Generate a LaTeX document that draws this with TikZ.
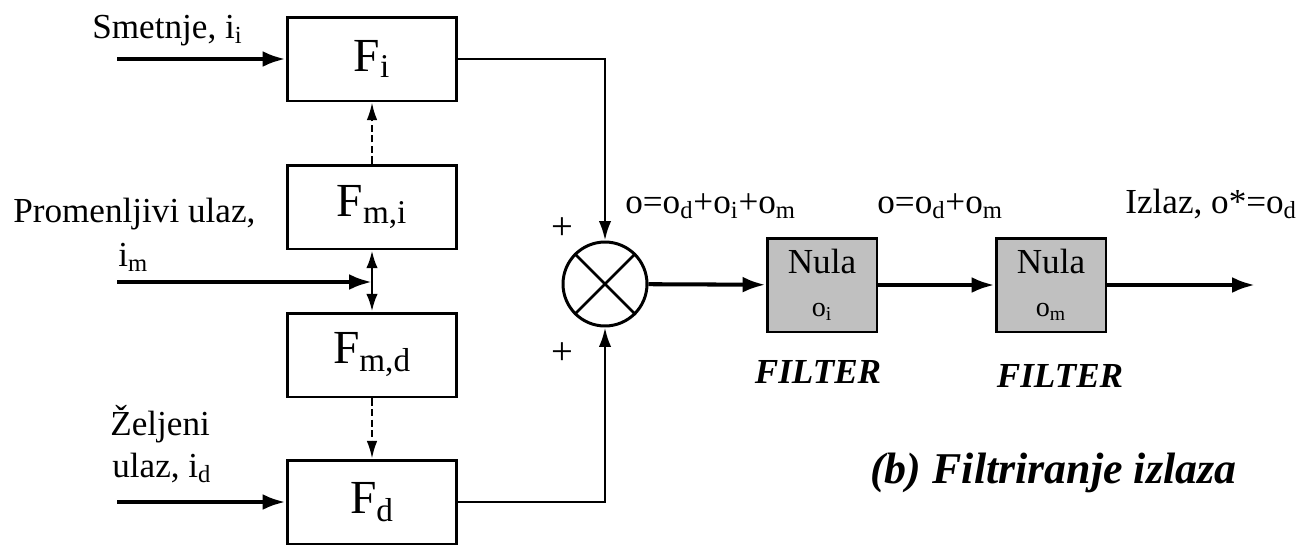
\documentclass[tikz,border=0pt]{standalone}
\usepackage{fontspec}
\setmainfont{Liberation Serif}
\usetikzlibrary{arrows.meta,positioning}
\definecolor{filtergray}{HTML}{C0C0C0}

\begin{document}
\begin{tikzpicture}[x=0.02cm,y=-0.02cm,
        font=\fontsize{20}{24}\selectfont,
        blk/.style={draw,line width=1.7pt,minimum width=3.4cm,minimum height=1.68cm,
          inner sep=0pt,font=\fontsize{27}{30}\selectfont},
        nula/.style={draw,line width=1.7pt,fill=filtergray,minimum width=2.2cm,
          minimum height=1.88cm,inner sep=0pt,align=center},
        sumnode/.style={draw,circle,line width=1.7pt,minimum size=1.68cm,inner sep=0pt},
        arr/.style={-{Latex[length=13pt,width=9pt]},line width=2.3pt},
        link/.style={-{Latex[length=11pt,width=7pt]},line width=1.5pt},
        biarr/.style={{Latex[length=10pt,width=6.5pt]}-{Latex[length=10pt,width=6.5pt]},line width=1.5pt},
        dsh/.style={-{Latex[length=10pt,width=6pt]},line width=1.2pt,dash pattern=on 4pt off 2pt},
        lbl/.style={anchor=base west,inner sep=0pt},
        flt/.style={anchor=base,inner sep=0pt,font=\fontsize{20}{24}\selectfont\bfseries\itshape}
      ]
        \useasboundingbox (0,0) rectangle (1301,545);
        % blocks
        \node[blk] (fi) at (372,59) {F\textsubscript{i}};
        \node[blk] (fmi) at (372,207) {F\textsubscript{m,i}};
        \node[blk] (fmd) at (372,355) {F\textsubscript{m,d}};
        \node[blk] (fd) at (372,502) {F\textsubscript{d}};
        \node[sumnode] (sum) at (605,284) {};
        \node[nula] (nul1) at (822,285) {Nula\\{\fontsize{16}{19}\selectfont o\textsubscript{i}}};
        \node[nula] (nul2) at (1051,285) {Nula\\{\fontsize{16}{19}\selectfont o\textsubscript{m}}};
        % free ends
        \coordinate (ini) at (117,59);
        \coordinate (inm) at (117,282);
        \coordinate (ind) at (117,502);
        \coordinate (jm) at (372,282);
        \coordinate (out) at (1255,285);
        % connectors
        \draw[arr] (ini) -- (fi);
        \draw[arr] (inm) -- (jm);
        \draw[arr] (ind) -- (fd);
        \draw[biarr] (fmi) -- (fmd);
        \draw[dsh] (fmi) -- (fi);
        \draw[dsh] (fmd) -- (fd);
        \draw[link] (fi.east) -| (sum.north);
        \draw[link] (fd.east) -| (sum.south);
        \draw[line width=1.5pt] (sum.north west) -- (sum.south east)
          (sum.north east) -- (sum.south west);
        \draw[arr] (sum) -- (nul1);
        \draw[arr] (nul1) -- (nul2);
        \draw[arr] (nul2) -- (out);
        % labels
        \node[lbl] (smlbl) at (92,38) {Smetnje, i\textsubscript{i}};
        \node[lbl] (prlbl) at (13,222) {Promenljivi ulaz,};
        \node[lbl] (imlbl) at (118,266) {i\textsubscript{m}};
        \node[lbl] (zelbl) at (110,435) {Željeni};
        \node[lbl] (udlbl) at (112,477) {ulaz, i\textsubscript{d}};
        \node[font=\fontsize{22}{24}\selectfont] (plus1) at (562,229) {+};
        \node[font=\fontsize{22}{24}\selectfont] (plus2) at (562,354) {+};
        \node[lbl] (olbl1) at (625,213) {o=o\textsubscript{d}+o\textsubscript{i}+o\textsubscript{m}};
        \node[lbl] (olbl2) at (877,213) {o=o\textsubscript{d}+o\textsubscript{m}};
        \node[lbl] (izlbl) at (1125,213) {Izlaz, o*=o\textsubscript{d}};
        \node[flt] (flt1) at (818,383) {FILTER};
        \node[flt] (flt2) at (1060,387) {FILTER};
        \node[lbl,font=\fontsize{25}{28}\selectfont\bfseries\itshape] (title) at (870,483) {(b) Filtriranje izlaza};
      \end{tikzpicture}
\end{document}
